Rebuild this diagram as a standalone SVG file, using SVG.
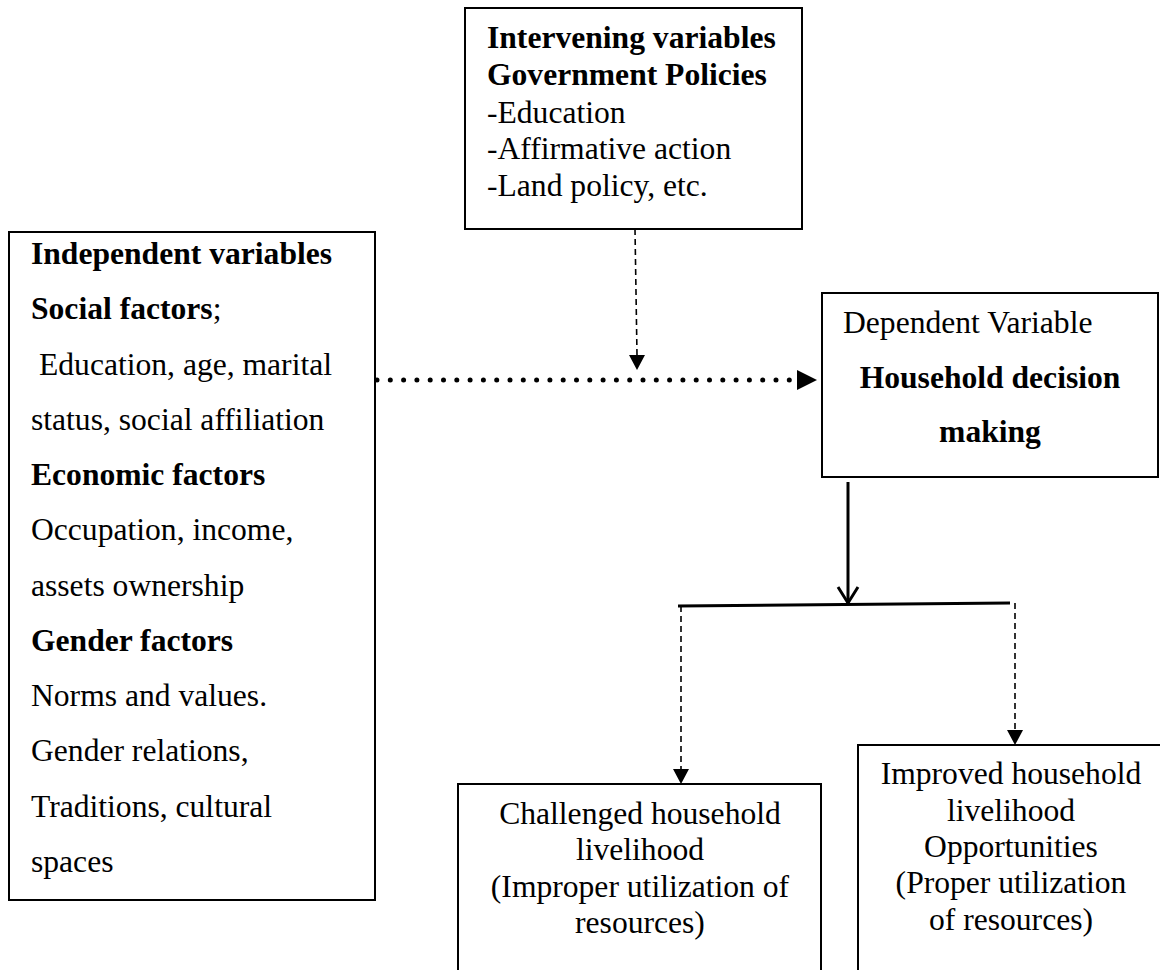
<svg xmlns="http://www.w3.org/2000/svg" width="1160" height="970" viewBox="0 0 1160 970">
<style>
.box{fill:#fff;stroke:#000;stroke-width:2}
text{font-family:"Liberation Serif","Times New Roman",serif;font-size:31.6px;fill:#000}
.b{font-weight:bold}
.c{text-anchor:middle}
.dash{fill:none;stroke:#000;stroke-width:1.6;stroke-dasharray:6 4}
.solid{fill:none;stroke:#000;stroke-width:3}
.dots{fill:none;stroke:#000;stroke-width:5;stroke-linecap:round;stroke-dasharray:0 13.3}
</style>
<g id="intervening">
<rect class="box" x="465" y="8" width="337" height="221"/>
<text x="487" y="48" class="b">Intervening variables</text>
<text x="487" y="85" class="b">Government Policies</text>
<text x="487" y="123">-Education</text>
<text x="487" y="159">-Affirmative action</text>
<text x="487" y="196">-Land policy, etc.</text>
</g>
<g id="independent">
<rect class="box" x="9" y="232" width="366" height="668"/>
<text x="31" y="264" class="b">Independent variables</text>
<text x="31" y="319"><tspan class="b">Social factors</tspan>;</text>
<text x="39" y="375">Education, age, marital</text>
<text x="31" y="430">status, social affiliation</text>
<text x="31" y="485" class="b">Economic factors</text>
<text x="31" y="540">Occupation, income,</text>
<text x="31" y="596">assets ownership</text>
<text x="31" y="651" class="b">Gender factors</text>
<text x="31" y="706">Norms and values.</text>
<text x="31" y="761">Gender relations,</text>
<text x="31" y="817">Traditions, cultural</text>
<text x="31" y="872">spaces</text>
</g>
<g id="dependent">
<rect class="box" x="822" y="293" width="336" height="184"/>
<text x="843" y="333">Dependent Variable</text>
<text x="990" y="388" class="b c">Household decision</text>
<text x="990" y="442" class="b c">making</text>
</g>
<g id="challenged">
<rect class="box" x="458" y="784" width="363" height="220"/>
<text x="640" y="824" class="c">Challenged household</text>
<text x="640" y="860" class="c">livelihood</text>
<text x="640" y="897" class="c">(Improper utilization of</text>
<text x="640" y="933" class="c">resources)</text>
</g>
<g id="improved">
<rect class="box" x="858" y="745" width="306" height="260"/>
<text x="1011" y="784" class="c">Improved household</text>
<text x="1011" y="821" class="c">livelihood</text>
<text x="1011" y="857" class="c">Opportunities</text>
<text x="1011" y="893" class="c">(Proper utilization</text>
<text x="1011" y="930" class="c">of resources)</text>
</g>
<g id="connectors">
<line class="dots" x1="377" y1="380" x2="797" y2="380"/>
<path d="M797,370 L817,380 L797,390 Z" fill="#000"/>
<line class="dash" x1="635" y1="229" x2="637" y2="355"/>
<path d="M629,355 L645,355 L637,370 Z" fill="#000"/>
<line class="solid" x1="848" y1="482" x2="848" y2="603"/>
<polyline class="solid" points="838,587 848,603 858,587" stroke-width="2.5"/>
<line class="solid" x1="678" y1="606" x2="1010" y2="603"/>
<line class="dash" x1="681" y1="606" x2="681" y2="769"/>
<path d="M673,769 L689,769 L681,784 Z" fill="#000"/>
<line class="dash" x1="1015" y1="603" x2="1015" y2="730"/>
<path d="M1007,730 L1023,730 L1015,745 Z" fill="#000"/>
</g>
</svg>
